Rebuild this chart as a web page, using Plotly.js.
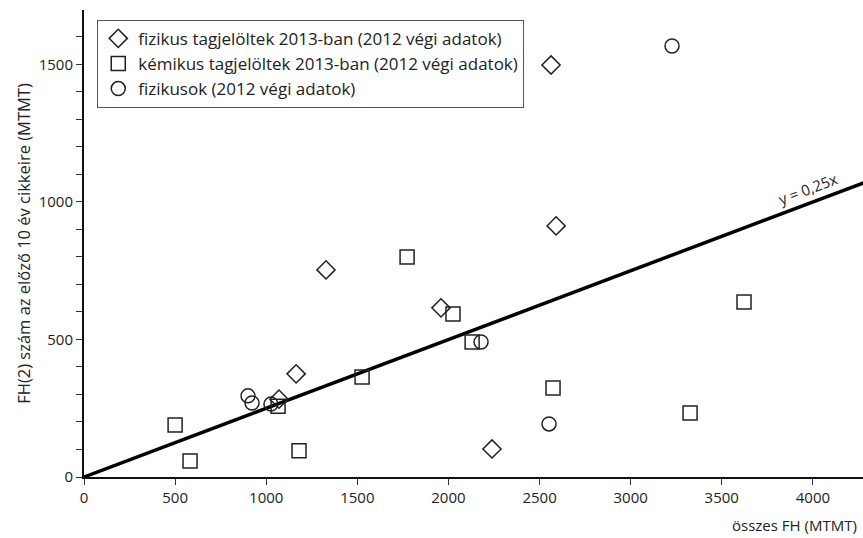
<!DOCTYPE html>
<html>
<head>
<meta charset="utf-8">
<script src="https://cdn.plot.ly/plotly-3.0.1.min.js"></script>
<style>html,body{margin:0;padding:0;background:#fff;}#chart{width:863px;height:538px;}</style>
</head>
<body>
<div id="chart"></div>
<script>
// Data
const diamondNames = "fizikus tagjelöltek 2013-ban (2012 végi adatok)";
const diamondX = [2563, 2591, 1328, 1959, 1164, 1070, 2239];
const diamondY = [1498, 913, 753, 615, 375, 283, 102];

const squareNames = "kémikus tagjelöltek 2013-ban (2012 végi adatok)";
const squareX = [1773, 2025, 3622, 2130, 1526, 2574, 1065, 500, 582, 1180, 3326];
const squareY = [800, 593, 636, 491, 364, 324, 257, 189, 58, 95, 233];

const circleNames = "fizikusok (2012 végi adatok)";
const circleX = [3227, 2552, 2179, 900, 922, 1026];
const circleY = [1567, 193, 491, 295, 269, 265];

const slope = 0.25;
const lineX = [0, 4300];
const lineY = lineX.map(v => slope * v);
const lineLabel = "y = 0,25x";
const labelX = 3990;

const xTickVals = [0, 500, 1000, 1500, 2000, 2500, 3000, 3500, 4000];
const yTickVals = [0,100,200,300,400,500,600,700,800,900,1000,1100,1200,1300,1400,1500,1600];
const yTickText = ["0","","","","","500","","","","","1000","","","","","1500",""];

const xTitle = "összes FH (MTMT)";
const yTitle = "FH(2) szám az előző 10 év cikkeire (MTMT)";

const FONT = "'Open Sans', Lato, sans-serif";
const mk = (sym) => ({symbol: sym, size: 14, color: "#222", line: {color: "#222", width: 1.5}});

const traces = [
  {x: lineX, y: lineY, mode: "lines", line: {color: "#000", width: 3.5}, showlegend: false, hoverinfo: "skip"},
  {x: diamondX, y: diamondY, mode: "markers", name: diamondNames, marker: mk("diamond-open")},
  {x: squareX, y: squareY, mode: "markers", name: squareNames, marker: mk("square-open")},
  {x: circleX, y: circleY, mode: "markers", name: circleNames, marker: mk("circle-open")}
];

const layout = {
  width: 863, height: 538,
  margin: {l: 84, r: 0, t: 10, b: 61},
  paper_bgcolor: "#fff", plot_bgcolor: "#fff",
  font: {family: FONT, size: 14, color: "#222"},
  showlegend: true,
  legend: {
    x: 0.017, y: 0.979, xanchor: "left", yanchor: "top",
    bordercolor: "#555", borderwidth: 1, bgcolor: "#fff",
    font: {family: FONT, size: 17, color: "#222"},
    itemwidth: 30, tracegroupgap: 0
  },
  xaxis: {
    range: [0, 4275], tickvals: xTickVals,
    ticks: "outside", ticklen: 6, tickcolor: "#333", tickwidth: 1,
    showgrid: false, zeroline: false, showline: true, linecolor: "#111", linewidth: 2,
    tickfont: {size: 15, color: "#222"}
  },
  yaxis: {
    range: [0, 1698],
    tickvals: yTickVals, ticktext: yTickText,
    ticks: "outside", ticklen: 6, tickcolor: "#333", tickwidth: 1,
    showgrid: false, zeroline: false, showline: true, linecolor: "#111", linewidth: 2,
    tickfont: {size: 15, color: "#222"},
    title: {text: yTitle, font: {size: 16.5, color: "#222"}, standoff: 4}
  },
  annotations: [
    {x: labelX, y: slope * labelX, xref: "x", yref: "y", text: lineLabel, showarrow: false,
     textangle: -20.7, yshift: 14, xshift: -4, font: {size: 15, color: "#222"}},
    {x: 1, y: 0, xref: "paper", yref: "paper", xanchor: "right", yanchor: "top", yshift: -36, xshift: -4,
     text: xTitle, showarrow: false, font: {size: 15, color: "#222"}}
  ]
};

Plotly.newPlot("chart", traces, layout, {displayModeBar: false, staticPlot: true});
</script>
</body>
</html>
